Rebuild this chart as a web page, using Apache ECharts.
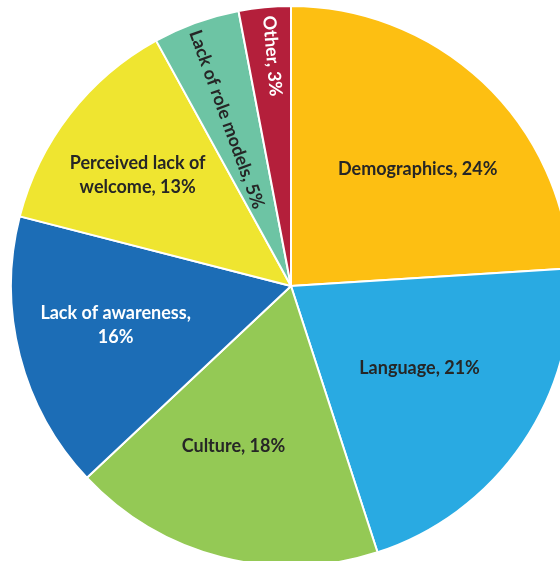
<!DOCTYPE html>
<html>
<head>
<meta charset="utf-8">
<script src="https://cdn.jsdelivr.net/npm/echarts@6/dist/echarts.min.js"></script>
<style>
  html, body { margin: 0; padding: 0; background: #fff; }
  #chart { width: 560px; height: 561px; }
</style>
</head>
<body>
<div id="chart"></div>
<script>
// Barriers, share of responses (%)
const categories = ['Demographics', 'Language', 'Culture', 'Lack of awareness', 'Perceived lack of\nwelcome', 'Lack of role models', 'Other'];
const values = [24, 21, 18, 16, 13, 5, 3];
const colors = ['#FDBF12', '#29AAE2', '#94C955', '#1C6DB6', '#EFE530', '#6DC4A4', '#B41F3B'];
const textColors = ['#262626', '#262626', '#262626', '#ffffff', '#262626', '#262626', '#ffffff'];
const labelRotate = [0, 0, 0, 0, 0, -70, -85];
// distance of each label from the centre along its slice bisector, plus a small nudge
const labelDist = [172, 153, 171, 179, 189, 178, 231];
const labelNudge = [[9, 9], [2, -4], [-15, -5], [-2, -5], [-4, 5], [-4, 1], [3, 0]];

const CX = 291, CY = 286, R = 280;
const total = values.reduce((a, b) => a + b, 0);
const midAngles = [];
let acc = 0;
values.forEach(v => { midAngles.push((acc + v / 2) / total * 2 * Math.PI); acc += v; });

const chart = echarts.init(document.getElementById('chart'), null, { renderer: 'canvas' });

const data = categories.map((name, i) => ({
  name: name,
  value: values[i],
  itemStyle: { color: colors[i] },
  label: {
    color: textColors[i],
    formatter: i === 3 ? '{b},\n{c}%' : '{b}, {c}%'
  }
}));

chart.setOption({
  animation: false,
  series: [{
    type: 'pie',
    center: [CX, CY],
    radius: [0, R],
    startAngle: 90,
    clockwise: true,
    avoidLabelOverlap: false,
    itemStyle: { borderColor: '#ffffff', borderWidth: 2 },
    label: {
      show: true,
      position: 'inside',
      fontFamily: 'Lato',
      fontWeight: 'bold',
      fontSize: 18,
      lineHeight: 24,
      align: 'center',
      verticalAlign: 'middle'
    },
    labelLine: { show: false },
    labelLayout: function (p) {
      const i = p.dataIndex;
      const a = midAngles[i];
      return {
        x: CX + Math.sin(a) * labelDist[i] + labelNudge[i][0],
        y: CY - Math.cos(a) * labelDist[i] + labelNudge[i][1],
        rotate: labelRotate[i],
        align: 'center',
        verticalAlign: 'middle'
      };
    },
    emphasis: { disabled: true },
    data: data
  }]
});
</script>
</body>
</html>
